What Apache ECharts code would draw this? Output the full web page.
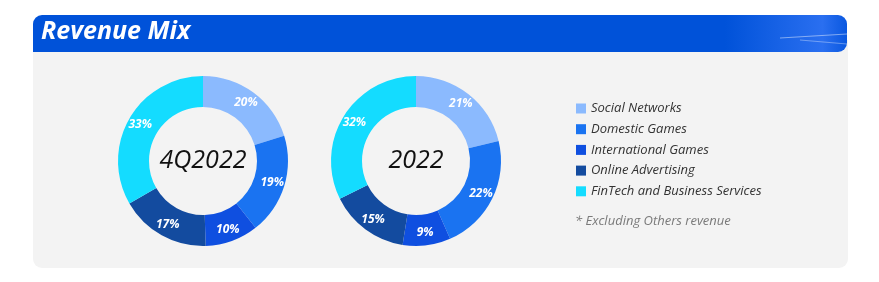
<!DOCTYPE html>
<html><head><meta charset="utf-8">
<script src="https://cdn.jsdelivr.net/npm/echarts@6/dist/echarts.min.js"></script>
<style>html,body{margin:0;padding:0;background:#fff}#c{width:879px;height:282px}</style>
</head><body><div id="c"></div>
<script>
const categories = ['Social Networks','Domestic Games','International Games','Online Advertising','FinTech and Business Services'];
const values4Q2022 = [20,19,10,17,33];
const values2022 = [21,22,9,15,32];
const periodLabels = ['4Q2022','2022'];
const colors = ['#8bbafe','#1a73f1','#0f4fe0','#134b9f','#14dcff'];
const title = 'Revenue Mix';
const footnote = '* Excluding Others revenue';

const font = '"Open Sans", sans-serif';
const chart = echarts.init(document.getElementById('c'), null, {renderer:'canvas'});

function pie(name, vals, cx) {
  return {
    type:'pie', name, radius:[54,85], center:[cx,161], startAngle:90, clockwise:true,
    avoidLabelOverlap:false, silent:true,
    itemStyle:{borderWidth:0},
    label:{show:true, position:'inside', formatter:'{c}%', color:'#fff', fontSize:12,
      fontStyle:'italic', fontWeight:'bold', fontFamily:font},
    labelLine:{show:false},
    data: vals.map((v,i)=>({name:categories[i], value:v, itemStyle:{color:colors[i]}}))
  };
}

chart.setOption({
  animation:false,
  graphic:[
    {type:'rect', z:-10, shape:{x:33,y:40,width:815,height:228,r:[0,0,9,9]}, style:{fill:'#f3f3f3'}},
    {type:'rect', z:-5, shape:{x:33,y:15,width:814,height:37,r:[9,9,9,0]},
      style:{fill:new echarts.graphic.LinearGradient(0,0,1,0,[
        {offset:0,color:'#0052d9'},{offset:0.85,color:'#0052d9'},{offset:0.97,color:'#2a6ff0'},{offset:1,color:'#0a58e0'}])}},
    {type:'line', z:-4, shape:{x1:780,y1:38,x2:847,y2:34}, style:{stroke:'rgba(255,255,255,0.45)',lineWidth:1}},
    {type:'line', z:-4, shape:{x1:800,y1:40,x2:847,y2:44}, style:{stroke:'rgba(255,255,255,0.35)',lineWidth:1}},
    {type:'text', z:5, left:41, top:19, style:{text:title, fill:'#fff', fontSize:25, fontStyle:'italic', fontWeight:'bold', fontFamily:font}},
    {type:'text', z:5, x:203, y:161, style:{text:periodLabels[0], fill:'#111', fontSize:25, fontStyle:'italic', fontWeight:500, fontFamily:font, align:'center', verticalAlign:'middle'}},
    {type:'text', z:5, x:416, y:161, style:{text:periodLabels[1], fill:'#111', fontSize:25, fontStyle:'italic', fontWeight:500, fontFamily:font, align:'center', verticalAlign:'middle'}},
    {type:'text', z:5, left:575, top:215, style:{text:footnote, fill:'#7a7a7a', fontSize:13, fontStyle:'italic', fontFamily:font}}
  ],
  legend:{
    orient:'vertical', left:571, top:97, itemWidth:10, itemHeight:10, itemGap:7.7,
    icon:'rect', selectedMode:false,
    textStyle:{color:'#333', fontSize:13, fontStyle:'italic', fontFamily:font, lineHeight:13},
    data:categories
  },
  series:[pie(periodLabels[0], values4Q2022, 203), pie(periodLabels[1], values2022, 416)]
});
</script></body></html>
